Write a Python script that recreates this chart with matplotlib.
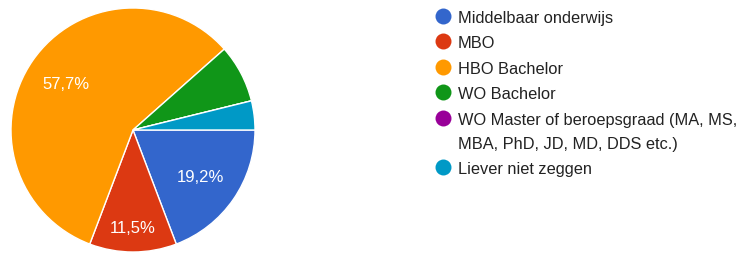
import numpy as np
import matplotlib
matplotlib.use("Agg")
import matplotlib.pyplot as plt
from matplotlib.lines import Line2D

plt.rcParams['font.family'] = ['Liberation Sans', 'DejaVu Sans']

# Data
categories = [
    "Middelbaar onderwijs",
    "MBO",
    "HBO Bachelor",
    "WO Bachelor",
    "WO Master of beroepsgraad (MA, MS,\nMBA, PhD, JD, MD, DDS etc.)",
    "Liever niet zeggen",
]
counts = [5, 3, 15, 2, 0, 1]
colors = ["#3366cc", "#dc3912", "#ff9900", "#109618", "#990099", "#0099c6"]

W, H = 739, 255
fig = plt.figure(figsize=(W / 100, H / 100), dpi=100)

# pie axes: centre (133, 131) px, radius 122 px
cx, cy, r = 133, 131, 122
ax = fig.add_axes([(cx - r) / W, (H - cy - r) / H, 2 * r / W, 2 * r / H])


def pct_label(p):
    if p < 10:
        return ""
    return f"{p:.1f}%".replace(".", ",")


wedges, texts, autotexts = ax.pie(
    counts, colors=colors, startangle=0, counterclock=False,
    autopct=pct_label, pctdistance=0.67,
    wedgeprops=dict(edgecolor="white", linewidth=1.0),
    textprops=dict(color="white", fontsize=12),
)
# Google puts the narrow slice label further out
for w, t in zip(wedges, autotexts):
    if t.get_text() and (w.theta2 - w.theta1) < 50:
        ang = np.deg2rad((w.theta1 + w.theta2) / 2)
        t.set_position((0.8 * np.cos(ang), 0.8 * np.sin(ang)))
ax.set_xlim(-1, 1)
ax.set_ylim(-1, 1)
ax.set_aspect("equal")
ax.axis("off")

# legend drawn by hand
y = 17.0
row = 25.4
line_h = 24.0
for cat, col in zip(categories, colors):
    fig.add_artist(Line2D([443 / W], [1 - y / H], marker="o", markersize=11.5,
                          color=col, markeredgewidth=0, transform=fig.transFigure))
    for k, part in enumerate(cat.split("\n")):
        fig.text(458 / W, 1 - (y + k * line_h) / H, part, fontsize=11.8,
                 color="#222222", va="center_baseline", ha="left")
    y += row + line_h * cat.count("\n")

fig.savefig("out.png", dpi=100)
